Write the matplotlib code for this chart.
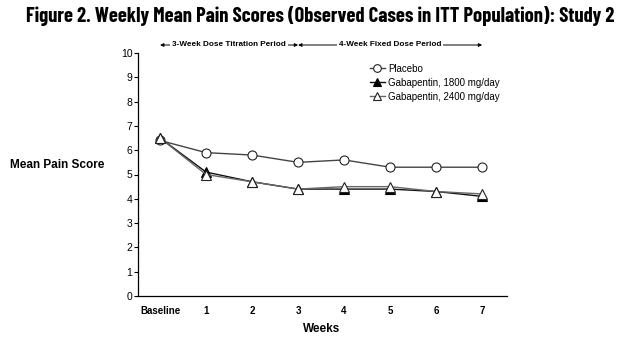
import matplotlib
matplotlib.use("Agg")
import matplotlib.pyplot as plt

weeks = ["Baseline", "1", "2", "3", "4", "5", "6", "7"]
placebo = [6.4, 5.9, 5.8, 5.5, 5.6, 5.3, 5.3, 5.3]
gaba1800 = [6.5, 5.1, 4.7, 4.4, 4.4, 4.4, 4.3, 4.1]
gaba2400 = [6.5, 5.0, 4.7, 4.4, 4.5, 4.5, 4.3, 4.2]
series_labels = ["Placebo", "Gabapentin, 1800 mg/day", "Gabapentin, 2400 mg/day"]
periods = [("3-Week Dose Titration Period", 0, 3), ("4-Week Fixed Dose Period", 3, 7)]

plt.rcParams['font.family'] = ['Liberation Sans', 'DejaVu Sans']
fig = plt.figure(figsize=(6.21, 3.38), dpi=100)
W, H = 621, 338
ax = fig.add_axes([138 / W, 1 - 296 / H, (507 - 138) / W, (296 - 53) / H])
x = list(range(len(weeks)))
ax.plot(x, placebo, color='#444444', lw=1.0, marker='o', ms=6.5, mfc='white', mec='#222222', mew=0.8, zorder=3, label=series_labels[0])
ax.plot(x, gaba1800, color='#111111', lw=1.0, marker='^', ms=6.5, mfc='black', mec='black', mew=0.8, zorder=4, label=series_labels[1])
ax.plot(x, gaba2400, color='#666666', lw=1.0, marker='^', ms=6.5, mfc='white', mec='#222222', mew=0.8, zorder=5, label=series_labels[2])
ax.set_xlim(-0.48, 7.54)
ax.set_ylim(0, 10)
ax.set_yticks(range(0, 11))
ax.set_xticks(x)
ax.set_xticklabels(weeks, fontweight='bold', fontsize=7)
ax.tick_params(axis='y', labelsize=7.5, length=3, width=0.8, pad=1)
ax.tick_params(axis='x', length=0, pad=7)
for s in ['top', 'right']:
    ax.spines[s].set_visible(False)
ax.spines['left'].set_linewidth(0.9)
ax.spines['bottom'].set_linewidth(0.9)

leg = ax.legend(loc='upper left', bbox_to_anchor=((370 - 138) / (507 - 138), 1 - (63.5 - 53) / (296 - 53)),
                frameon=False, fontsize=7, handlelength=1.5, handletextpad=0.35, labelspacing=0.42,
                borderaxespad=0, borderpad=0, markerscale=0.85)

# period annotations
ytxt = 10 + 8 / 24.3
for label, x0, x1 in periods:
    ax.annotate('', xy=(x0, ytxt), xytext=(x1, ytxt), xycoords='data',
                arrowprops=dict(arrowstyle='<|-|>', color='black', lw=0.7, mutation_scale=5,
                                shrinkA=0, shrinkB=0), annotation_clip=False)
    ax.text((x0 + x1) / 2, ytxt, label, fontsize=5.9, fontweight='bold', ha='center', va='center',
            bbox=dict(facecolor='white', edgecolor='none', pad=1.5), clip_on=False)

fig.text(10 / W, 1 - 165 / H, "Mean Pain Score", fontweight='bold', fontsize=8.5, va='center', ha='left')
fig.text(322 / W, 1 - 329 / H, "Weeks", fontweight='bold', fontsize=8.5, va='center', ha='center')
fig.text(320 / W, 1 - 16.5 / H, "Figure 2. Weekly Mean Pain Scores (Observed Cases in ITT Population): Study 2",
         fontweight='bold', fontsize=14.8, va='center', ha='center',
         family=['Barlow Condensed', 'DejaVu Sans'])

fig.savefig("out.png", dpi=100)
